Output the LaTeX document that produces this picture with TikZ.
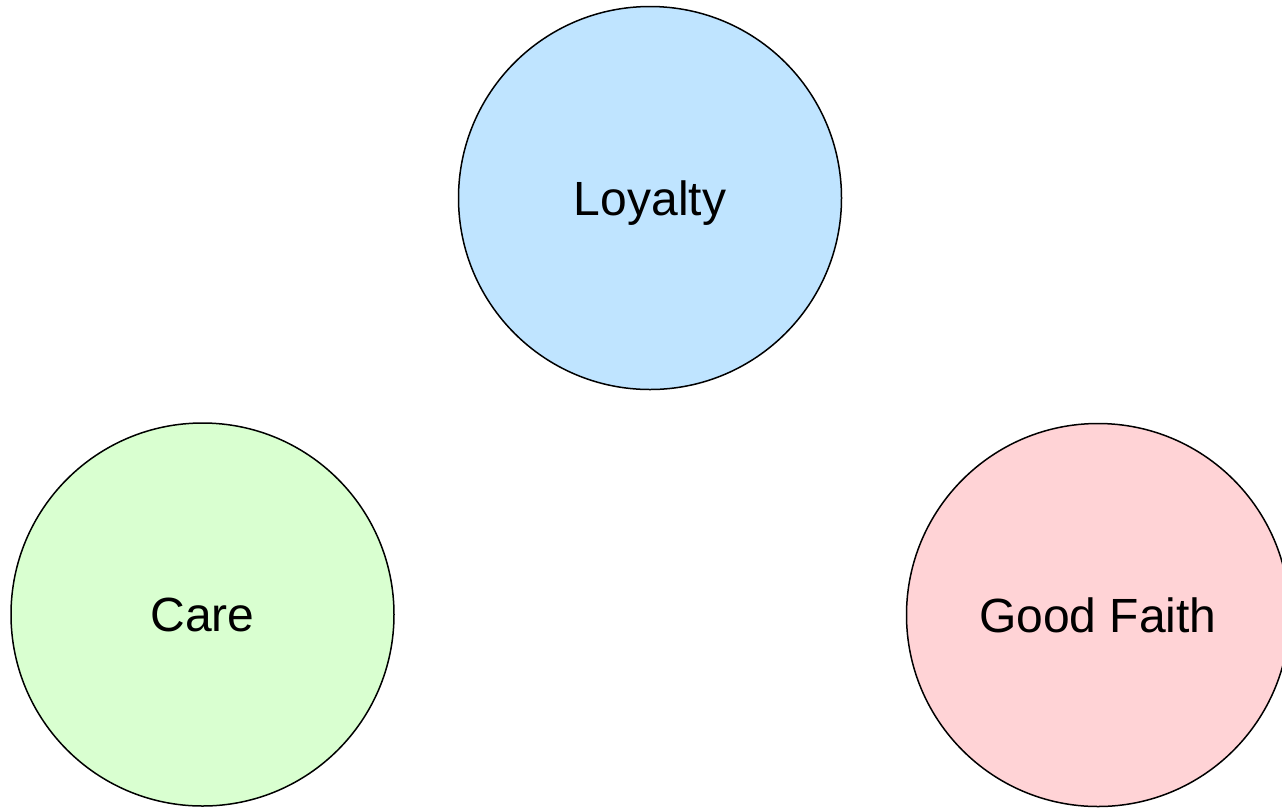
\documentclass[tikz,border=0pt]{standalone}
\usepackage{fontspec}
\setmainfont{Liberation Sans}
\definecolor{loyaltyfill}{HTML}{BFE4FF}
\definecolor{carefill}{HTML}{D9FFD0}
\definecolor{faithfill}{HTML}{FFD3D6}
\begin{document}
\begin{tikzpicture}[x=1pt,y=-1pt,
  duty/.style={circle, draw=black, line width=1.5pt, minimum size=383pt,
    inner sep=0pt, text height=34pt, text depth=0pt,
    font=\fontsize{48}{58}\selectfont}]
  \useasboundingbox (0,0) rectangle (1282,807);
  \clip (0,0) rectangle (1282,807);
  \node[duty, fill=loyaltyfill] (loyalty) at (650,198) {Loyalty};
  \node[duty, fill=carefill] (care) at (202.5,614.5) {Care};
  \node[duty, fill=faithfill] (faith) at (1098,615) {Good Faith};
\end{tikzpicture}
\end{document}
